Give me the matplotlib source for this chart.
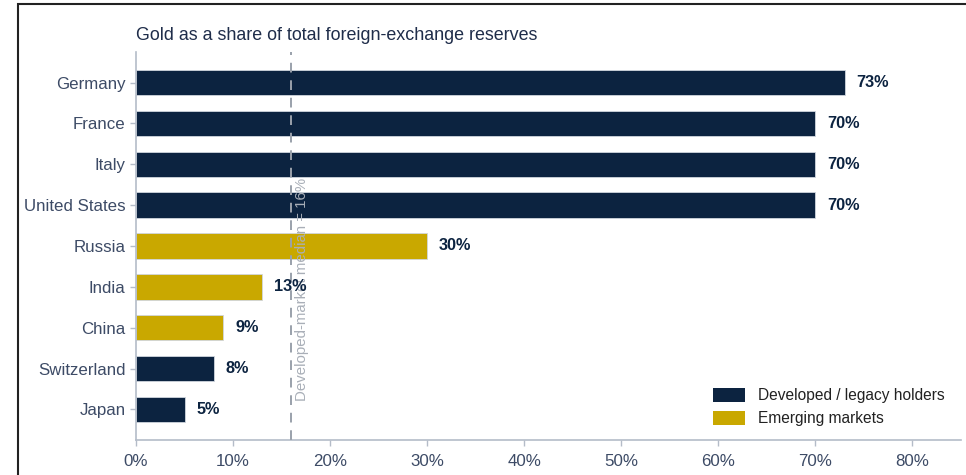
import matplotlib.pyplot as plt
from matplotlib.patches import Patch, Rectangle

countries = ["Germany", "France", "Italy", "United States", "Russia",
             "India", "China", "Switzerland", "Japan"]
gold_share = [73, 70, 70, 70, 30, 13, 9, 8, 5]
groups = ["dev", "dev", "dev", "dev", "em", "em", "em", "dev", "dev"]
median_dev = 16
x_ticks = [0, 10, 20, 30, 40, 50, 60, 70, 80]

NAVY = "#0c2340"
GOLD = "#c9a800"
TICK = "#3d4b66"
SPINE = "#b4bcc8"

plt.rcParams["font.family"] = ["Liberation Sans", "DejaVu Sans"]

fig = plt.figure(figsize=(9.66, 4.75), dpi=100)
ax = fig.add_axes([136 / 966, 35 / 475, (961 - 136) / 966, (440 - 52) / 475])

# frame line around the chart (cropped at right/bottom)
fig.patches.append(Rectangle((18 / 966, -0.1), 1.2, 471 / 475 + 0.1,
                             transform=fig.transFigure, fill=False,
                             edgecolor="#222222", linewidth=1.5))

colors = [NAVY if g == "dev" else GOLD for g in groups]
ypos = list(range(len(countries)))
ax.barh(ypos, gold_share, height=0.62, color=colors, edgecolor="#d0d6de",
        linewidth=0.6, zorder=2)

for y, v in zip(ypos, gold_share):
    ax.text(v + 1.2, y, f"{v}%", va="center", ha="left", fontsize=11.7,
            fontweight="bold", color=NAVY, zorder=4)

ax.axvline(median_dev, color="#9aa1ab", linestyle=(0, (5, 4)), linewidth=1.4,
           zorder=3)
ax.text(median_dev + 0.35, 0.1, f"Developed-market median = {median_dev}%",
        rotation=90, va="bottom", ha="left", fontsize=10.8, color="#a9afb8",
        transform=ax.get_xaxis_transform(), zorder=3)

ax.set_ylim(8.75, -0.75)
ax.set_xlim(0, 85)
ax.set_yticks(ypos)
ax.set_yticklabels(countries)
ax.set_xticks(x_ticks)
ax.set_xticklabels([f"{t}%" for t in x_ticks])
ax.tick_params(axis="both", labelsize=12.2, colors=SPINE, labelcolor=TICK,
               length=4, width=1)
ax.tick_params(axis="x", pad=6)

for side in ["top", "right"]:
    ax.spines[side].set_visible(False)
for side in ["left", "bottom"]:
    ax.spines[side].set_color(SPINE)
    ax.spines[side].set_linewidth(1.2)

ax.set_title("Gold as a share of total foreign-exchange reserves", loc="left",
             fontsize=12.9, color="#1f2d4a", pad=9)

legend_elements = [
    Patch(facecolor=NAVY, label="Developed / legacy holders"),
    Patch(facecolor=GOLD, label="Emerging markets"),
]
ax.legend(handles=legend_elements, loc="lower right", frameon=False,
          fontsize=11.2, handlelength=2.1, handleheight=1.0,
          bbox_to_anchor=(0.997, 0.0), labelcolor="#222222")

fig.savefig("out.png", dpi=100, facecolor="white")
